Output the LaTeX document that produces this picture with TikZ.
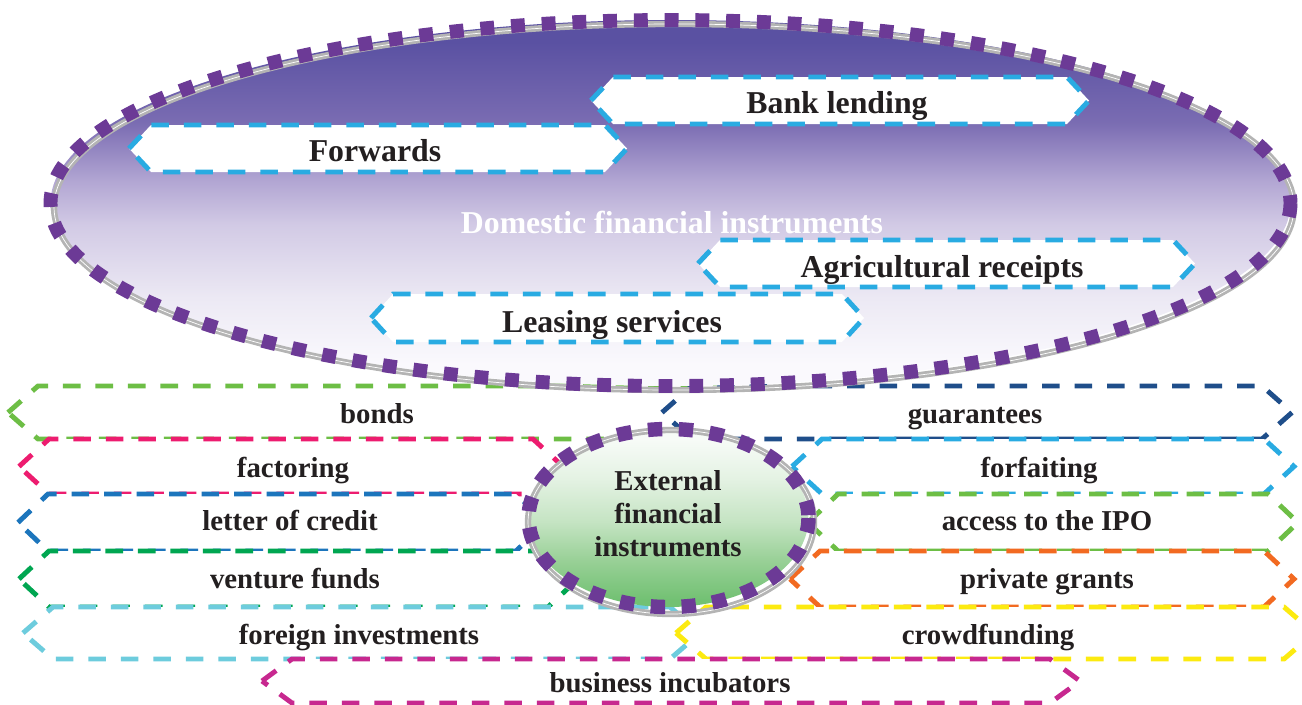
\documentclass[tikz,border=0pt]{standalone}
\usepackage{fontspec}
\setmainfont{Liberation Serif}
\definecolor{cyanline}{HTML}{29ABE2}
\definecolor{bondgreen}{HTML}{6DBE45}
\definecolor{factpink}{HTML}{ED1C6F}
\definecolor{lcblue}{HTML}{1C75BC}
\definecolor{ventgreen}{HTML}{00A651}
\definecolor{forcyan}{HTML}{6DCCDD}
\definecolor{incmag}{HTML}{C7288F}
\definecolor{guarnavy}{HTML}{1F4E8A}
\definecolor{granorange}{HTML}{F26A21}
\definecolor{crowdyellow}{HTML}{FCEA10}
\definecolor{dotpurple}{HTML}{6C3A96}
\definecolor{rimgray}{HTML}{B4B4B4}
\definecolor{labtext}{HTML}{231F20}
% purple-to-white fill of the domestic ellipse (bottom = 25bp, top = 75bp)
\definecolor{domA}{HTML}{FAF9FD}
\definecolor{domB}{HTML}{ECE9F4}
\definecolor{domC}{HTML}{D2CAE5}
\definecolor{domD}{HTML}{B2A6D3}
\definecolor{domE}{HTML}{7A6CB2}
\definecolor{domF}{HTML}{5A51A2}
\pgfdeclareverticalshading{domshade}{100bp}{color(0bp)=(domA); color(28bp)=(domA);
  color(37bp)=(domB); color(47bp)=(domC); color(53bp)=(domD); color(61bp)=(domE);
  color(72bp)=(domF); color(100bp)=(domF)}
% white-to-green fill of the external ellipse
\definecolor{extA}{HTML}{72C173}
\definecolor{extB}{HTML}{98D096}
\definecolor{extC}{HTML}{C5E4C3}
\definecolor{extD}{HTML}{E4F2E3}
\definecolor{extE}{HTML}{F7FBF7}
\pgfdeclareverticalshading{extshade}{100bp}{color(0bp)=(extA); color(27bp)=(extA);
  color(38bp)=(extB); color(49bp)=(extC); color(61bp)=(extD); color(72bp)=(extE);
  color(100bp)=(extE)}
% hexagonal label box: left tip x, right tip x, top y, bottom y, indent, colour
\newcommand\hexshape[6]{%
  \filldraw[hexedge,draw=#6] (#1,{(#3+#4)/2}) -- ({#1+#5},#3) -- ({#2-#5},#3)
    -- (#2,{(#3+#4)/2}) -- ({#2-#5},#4) -- ({#1+#5},#4) -- cycle;}
\begin{document}
\begin{tikzpicture}[x=0.02cm,y=-0.02cm,
  hexedge/.style={line width=2.8pt,dash pattern=on 10pt off 8.5pt,fill=white},
  biglab/.style={font=\fontsize{18.1pt}{21pt}\selectfont\bfseries,text=labtext,inner sep=0pt,anchor=base},
  smalllab/.style={font=\fontsize{16.4pt}{18.7pt}\selectfont\bfseries,text=labtext,inner sep=0pt,anchor=base},
  rim/.style={draw=rimgray,line width=3.6pt},
  rimshine/.style={draw=white,line width=0.4pt},
  bigdots/.style={draw=dotpurple,line width=7.9pt,dash pattern=on 7.9pt off 9.6pt},
  smalldots/.style={draw=dotpurple,line width=8.2pt,dash pattern=on 8.2pt off 9.4pt}]
\useasboundingbox (0,0) rectangle (1302,704);

% ---- external instruments, left column
\hexshape{8}{746}{386}{439}{30}{bondgreen}
\node[smalllab] (bonds) at (377,423) {bonds};
\hexshape{19}{563}{439}{494}{30}{factpink}
\node[smalllab] (factoring) at (293,477) {factoring};
\hexshape{18}{546}{494}{551}{30}{lcblue}
\node[smalllab] (letter) at (290,530) {letter of credit};
\hexshape{19}{578}{551}{607}{30}{ventgreen}
\node[smalllab] (venture) at (295,588) {venture funds};
\hexshape{23}{700}{607}{659}{30}{forcyan}
\node[smalllab] (foreign) at (359,644) {foreign investments};

% ---- external instruments, right column
\hexshape{662}{1292}{386}{439}{30}{guarnavy}
\node[smalllab] (guarantees) at (975,423) {guarantees};
\hexshape{792}{1294}{439}{494}{30}{cyanline}
\node[smalllab] (forfaiting) at (1039,477) {forfaiting};
\hexshape{808}{1298}{494}{551}{30}{bondgreen}
\node[smalllab] (ipo) at (1047,530) {access to the IPO};
\hexshape{790}{1294}{551}{607}{30}{granorange}
\node[smalllab] (grants) at (1047,588) {private grants};
\hexshape{676}{1314}{607}{659}{30}{crowdyellow}
\node[smalllab] (crowd) at (988,644) {crowdfunding};
\hexshape{262}{1080}{659}{703}{30}{incmag}
\node[smalllab] (incub) at (670,692) {business incubators};

% ---- domestic instruments ellipse
\shade[shading=domshade] (670.5,203) ellipse [x radius=620,y radius=183];
\draw[rim] (674,207) ellipse [x radius=620,y radius=183];
\draw[rimshine] (674,207) ellipse [x radius=620,y radius=183];
\draw[bigdots] (670.5,203) ellipse [x radius=620,y radius=183];
\node[font=\fontsize{18.1pt}{21pt}\selectfont\bfseries,text=white,inner sep=0pt,anchor=base]
  (domestic) at (672,233) {Domestic financial instruments};

\hexshape{591}{1089}{77}{124}{22}{cyanline}
\node[biglab] (bank) at (837,113) {Bank lending};
\hexshape{129}{627}{125}{172}{22}{cyanline}
\node[biglab] (forwards) at (375,161) {Forwards};
\hexshape{698}{1195}{240}{287}{22}{cyanline}
\node[biglab] (agri) at (942,277) {Agricultural receipts};
\hexshape{371}{864}{294}{342}{22}{cyanline}
\node[biglab] (leasing) at (612,332) {Leasing services};

% ---- external instruments ellipse
\shade[shading=extshade] (668.5,518) ellipse [x radius=140,y radius=89];
\draw[rim] (671,522) ellipse [x radius=143,y radius=92];
\draw[rimshine] (671,522) ellipse [x radius=143,y radius=92];
\draw[smalldots] (668.5,518) ellipse [x radius=140,y radius=89];
\node[font=\fontsize{16.4pt}{18.7pt}\selectfont\bfseries,text=labtext,align=center,inner sep=0pt]
  (external) at (668,514) {External\\financial\\instruments};
\end{tikzpicture}
\end{document}
